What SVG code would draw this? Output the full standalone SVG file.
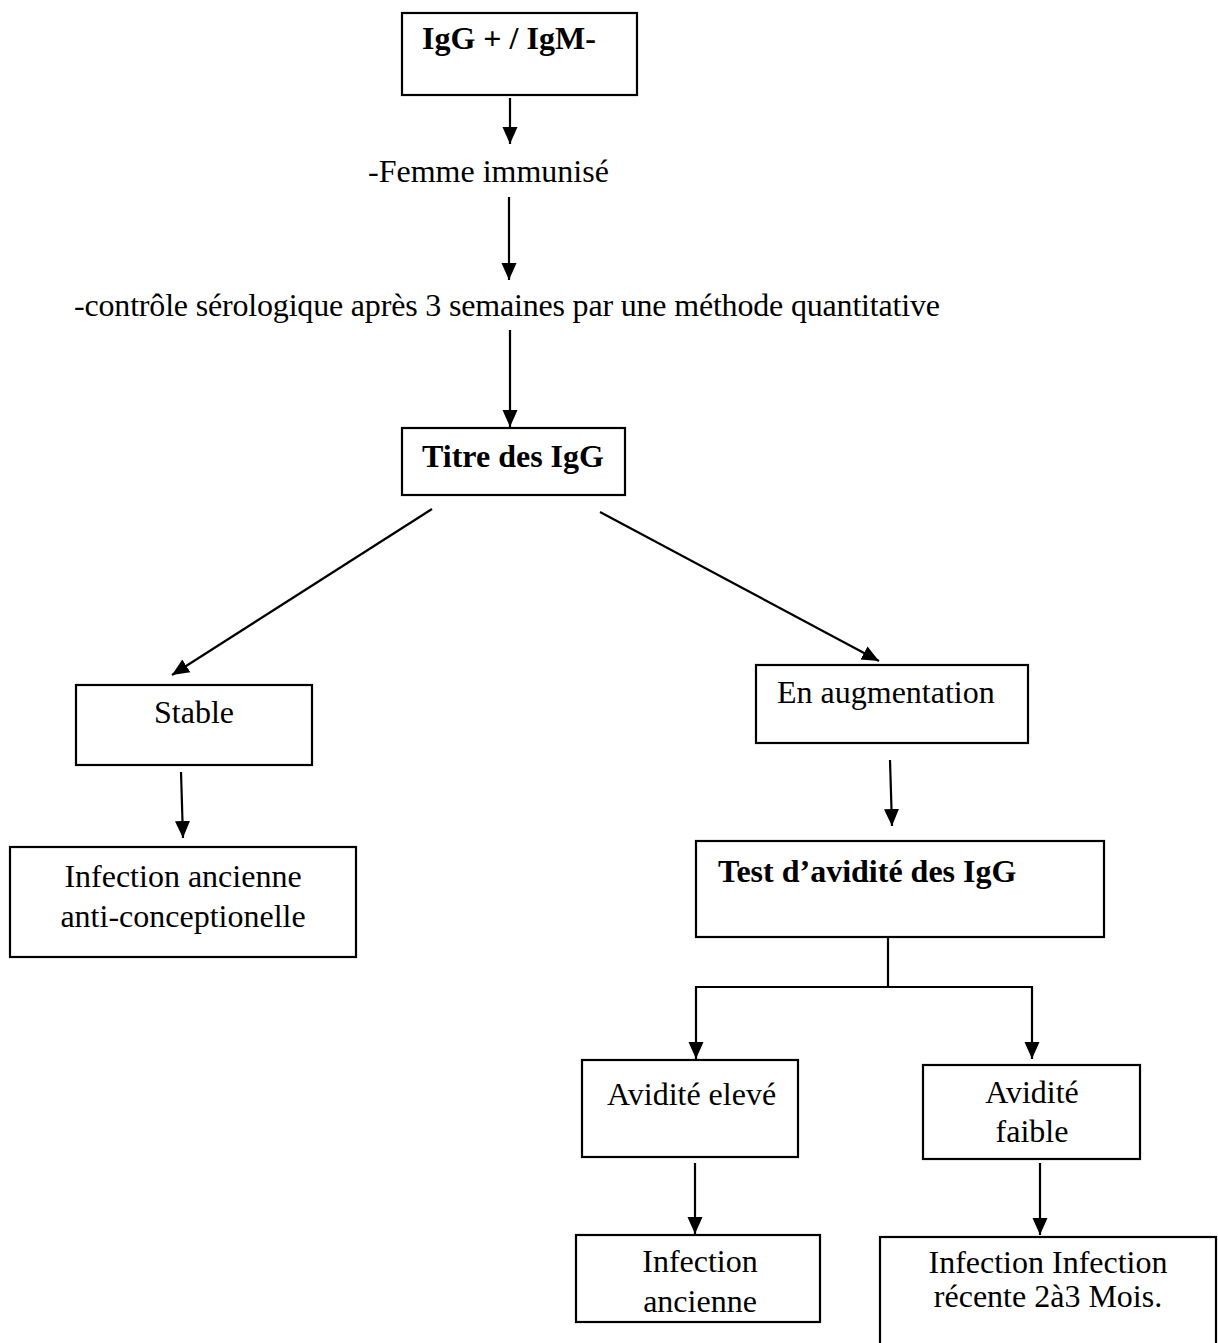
<svg xmlns="http://www.w3.org/2000/svg" width="1218" height="1343" viewBox="0 0 1218 1343">
<style>
.box{fill:#fff;stroke:#000;stroke-width:2.2}
.t{font-family:"Liberation Serif","Times New Roman",serif;font-size:32px;fill:#000}
.b{font-weight:bold}
.c{text-anchor:middle}
.ln{stroke:#000;stroke-width:2.2;fill:none}
.ar{marker-end:url(#ah)}
</style>
<defs>
<marker id="ah" markerUnits="userSpaceOnUse" markerWidth="18" markerHeight="18" viewBox="0 0 18 18" refX="17" refY="9" orient="auto">
<path d="M0,1.5 L17,9 L0,16.5 Z" fill="#000"/>
</marker>
</defs>
<rect width="1218" height="1343" fill="#fff"/>
<g id="connectors">
<line class="ln ar" x1="510" y1="98" x2="510" y2="144"/>
<line class="ln ar" x1="509" y1="197" x2="509" y2="280"/>
<line class="ln ar" x1="510" y1="330" x2="510" y2="427"/>
<line class="ln ar" x1="432" y1="509" x2="172" y2="675"/>
<line class="ln ar" x1="600" y1="512" x2="879" y2="661"/>
<line class="ln ar" x1="181" y1="772" x2="183" y2="838"/>
<line class="ln ar" x1="890" y1="760" x2="892" y2="826"/>
<polyline class="ln" points="888,937 888,987"/>
<polyline class="ln" points="696,987 1032,987"/>
<line class="ln ar" x1="696" y1="986" x2="696" y2="1059"/>
<line class="ln ar" x1="1032" y1="986" x2="1032" y2="1059"/>
<line class="ln ar" x1="695" y1="1163" x2="695" y2="1234"/>
<line class="ln ar" x1="1040" y1="1163" x2="1040" y2="1235"/>
</g>
<g id="n_igg">
<rect class="box" x="402" y="13" width="235" height="82"/>
<text class="t b" x="422" y="49">IgG + / IgM-</text>
</g>
<g id="n_femme">
<text class="t" x="368" y="182">-Femme immunisé</text>
</g>
<g id="n_controle">
<text class="t" x="74" y="316" textLength="866" lengthAdjust="spacing">-contrôle sérologique après 3 semaines par une méthode quantitative</text>
</g>
<g id="n_titre">
<rect class="box" x="402" y="428" width="223" height="67"/>
<text class="t b" x="422" y="467">Titre des IgG</text>
</g>
<g id="n_stable">
<rect class="box" x="76" y="685" width="236" height="80"/>
<text class="t c" x="194" y="723">Stable</text>
</g>
<g id="n_inf_anc_anti">
<rect class="box" x="10" y="847" width="346" height="110"/>
<text class="t c" x="183" y="887">Infection ancienne</text>
<text class="t c" x="183" y="927">anti-conceptionelle</text>
</g>
<g id="n_augm">
<rect class="box" x="756" y="665" width="272" height="78"/>
<text class="t" x="777" y="703">En augmentation</text>
</g>
<g id="n_test">
<rect class="box" x="696" y="841" width="408" height="96"/>
<text class="t b" x="718" y="882">Test d’avidité des IgG</text>
</g>
<g id="n_elev">
<rect class="box" x="582" y="1060" width="216" height="97"/>
<text class="t" x="607" y="1105">Avidité elevé</text>
</g>
<g id="n_faible">
<rect class="box" x="923" y="1065" width="217" height="94"/>
<text class="t c" x="1032" y="1103">Avidité</text>
<text class="t c" x="1032" y="1142">faible</text>
</g>
<g id="n_inf_anc">
<rect class="box" x="576" y="1235" width="244" height="87"/>
<text class="t c" x="700" y="1272">Infection</text>
<text class="t c" x="700" y="1312">ancienne</text>
</g>
<g id="n_inf_rec">
<rect class="box" x="880" y="1237" width="336" height="120"/>
<text class="t c" x="1048" y="1273">Infection Infection</text>
<text class="t c" x="1048" y="1307">récente 2à3 Mois.</text>
</g>
</svg>
